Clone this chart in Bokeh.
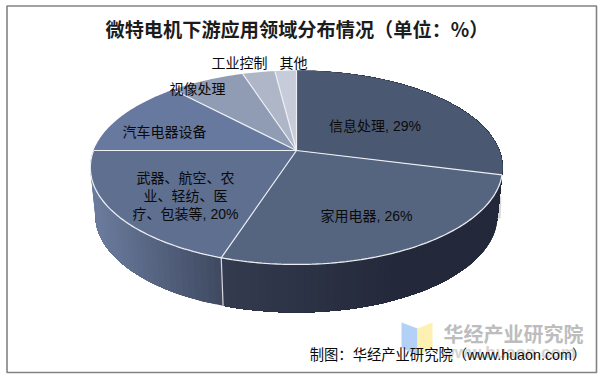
import math
from bokeh.plotting import figure
from bokeh.models import Range1d
from bokeh.core.properties import value
from bokeh.embed import file_html
from bokeh.resources import INLINE

title = "微特电机下游应用领域分布情况（单位：%）"
source = "制图：华经产业研究院（www.huaon.com）"
watermark = "华经产业研究院"
watermark_url = "www.huaon.com"

categories = ["信息处理", "家用电器", "武器、航空、农业、轻纺、医疗、包装等", "汽车电器设备", "视像处理", "工业控制", "其他"]
values = [29, 26, 20, 13, 7, 3, 2]
label_lines = [["信息处理, 29%"], ["家用电器, 26%"], ["武器、航空、农", "业、轻纺、医", "疗、包装等, 20%"],
               ["汽车电器设备"], ["视像处理"], ["工业控制"], ["其他"]]
top_colors = ["#4a5872", "#55657f", "#5e6f90", "#67799e", "#8f9cb4", "#aeb6c7", "#c6ccd9"]
label_pos = [(374.5, 125), (366, 215), (185, 177), (164, 131), (197, 88), (239, 62), (293, 62)]

# perspective pie frame
CX, CY, A, B, K = 296, 150, 203, 94, -0.175
A2, DROP = 198, 48
SANS = value("Liberation Sans, 'Noto Sans CJK SC'")


def proj(frac, lower=False):
    t = 2 * math.pi * frac
    u, v = math.sin(t), -math.cos(t)
    d = 1 + K * v
    a = A2 if lower else A
    return CX + a * u / d, CY + B * v / d + (DROP if lower else 0)


def arc(f0, f1, lower=False, n=None):
    n = n or max(2, int((f1 - f0) * 400))
    return [proj(f0 + (f1 - f0) * i / n, lower) for i in range(n + 1)]


def mix(c0, c1, t):
    t = max(0, min(1, t))
    a = [int(c0[i:i + 2], 16) for i in (1, 3, 5)]
    b = [int(c1[i:i + 2], 16) for i in (1, 3, 5)]
    return "#%02x%02x%02x" % tuple(round(x + (y - x) * t) for x, y in zip(a, b))


def wall_color(i, xm):
    if i == 2:
        return mix("#6a7b9c", "#3e4960", (xm - 95) / (222 - 95))
    return mix("#343b4f", "#23293a", (xm - 222) / (400 - 222))


p = figure(width=602, height=377, x_range=Range1d(0, 602), y_range=Range1d(377, 0),
           toolbar_location=None, output_backend="svg", min_border=0,
           outline_line_color=None)
p.axis.visible = False
p.grid.visible = False

# frame
p.quad(left=[6.5], right=[596], top=[5.5], bottom=[372], fill_color=None, line_color="#828282", line_width=1.6)

# watermark
p.patch([401, 417, 417, 401], [322, 328, 355, 347], fill_color="#b3d1f7", line_color=None)
p.patch([417, 432, 432, 417], [328, 322, 347, 355], fill_color="#fdf0b0", line_color=None)
p.text([443], [333], text=[watermark], text_font=value("Noto Sans CJK SC"), text_font_style="bold",
       text_font_size="20px", text_color="#bdbdbd", text_baseline="middle", text_align="left")
p.text([441], [352], text=[watermark_url], text_font=value("Liberation Sans"), text_font_style="bold",
       text_font_size="17px", text_color="#d4d4d4", text_baseline="middle", text_align="left")

# faint shadow at right edge
p.line([499.5, 498.5], [196, 218], line_color="#c8c8c8", line_width=3, line_alpha=0.7)

# side walls: painted back to front, each strip reaching under the next
fracs = [0]
for val in values:
    fracs.append(fracs[-1] + val / sum(values))
for i in (0, 1, 2):
    f0, f1 = fracs[i], fracs[i + 1]
    n = int((f1 - f0) * 200)
    for j in range(n):
        a0 = f0 + (f1 - f0) * j / n
        top = arc(a0, f1, n=max(2, n - j))
        low = arc(a0, f1, True, n=max(2, n - j))
        pts = top + low[::-1]
        q0, q1 = proj(a0), proj(f0 + (f1 - f0) * (j + 1) / n)
        col = wall_color(i, (q0[0] + q1[0]) / 2)
        p.patch([q[0] for q in pts], [q[1] for q in pts], fill_color=col, line_color=None)

# separator on the wall
sep = [proj(fracs[2]), proj(fracs[2], True)]
p.line([q[0] for q in sep], [q[1] for q in sep], line_color="#d8dae0", line_width=1.2)

# top slices
for i in range(len(values)):
    pts = [(CX, CY)] + arc(fracs[i], fracs[i + 1])
    p.patch([q[0] for q in pts], [q[1] for q in pts], fill_color=top_colors[i], line_color=None)

# radial dividers and front rim
for f in fracs[:-1]:
    q = proj(f)
    p.line([CX, q[0]], [CY, q[1]], line_color="#eef0f4", line_width=1.2)
rim = arc(fracs[1], fracs[3])
p.line([q[0] for q in rim], [q[1] for q in rim], line_color="#eceef2", line_width=1.3)

# labels
for (x, y), lines in zip(label_pos, label_lines):
    for k, s in enumerate(lines):
        p.text([x], [y + 18 * k], text=[s], text_font=SANS, text_font_size="14px", text_color="#0a0a0a",
               text_align="center", text_baseline="middle")

# title and source
p.text([296.5], [28], text=[title], text_font=value("Noto Sans CJK SC"), text_font_style="bold",
       text_font_size="19.2px", text_color="#1c1c1c", text_align="center", text_baseline="middle")
p.text([447.5], [354], text=[source], text_font=SANS, text_font_size="14.3px", text_color="#0a0a0a",
       text_align="center", text_baseline="middle")

open("out.html", "w").write(file_html(p, INLINE))
